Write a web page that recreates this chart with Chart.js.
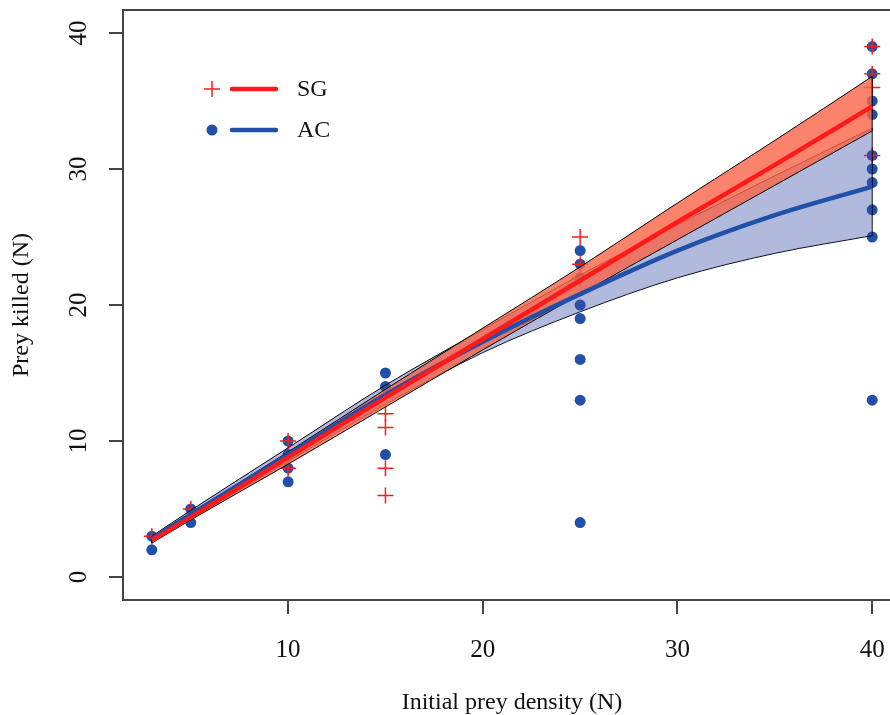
<!DOCTYPE html>
<html>
<head>
<meta charset="utf-8">
<script src="https://cdn.jsdelivr.net/npm/chart.js@4.4.1/dist/chart.umd.min.js"></script>
<style>
  html, body { margin: 0; padding: 0; background: #fff; overflow: hidden; }
  #wrap { width: 890px; height: 715px; overflow: hidden; }
</style>
</head>
<body>
<div id="wrap"><canvas id="chart" width="902" height="715"></canvas></div>
<script>
// observed prey killed per trial
const sgX = [3, 5, 10, 10, 15, 15, 15, 15, 25, 25, 25, 40, 40, 40, 40];
const sgY = [3, 5, 10, 8, 12, 11, 8, 6, 25, 23, 22, 39, 37, 36, 31];
const acX = [3, 3, 5, 5, 10, 10, 10, 10, 15, 15, 15, 25, 25, 25, 25, 25, 25, 25, 25, 40, 40, 40, 40, 40, 40, 40, 40, 40, 40, 40];
const acY = [3, 2, 5, 4, 10, 9, 8, 7, 15, 14, 9, 24, 23, 22, 20, 19, 16, 13, 4, 39, 37, 35, 34, 31, 30, 29, 27, 25, 13];

// fitted curves and confidence bands
const fitX  = [3, 5, 10, 15, 20, 25, 30, 35, 40];
const sgFit = [2.7, 4.4, 8.8, 13.2, 17.5, 21.8, 26.1, 30.3, 34.6];
const sgHi  = [2.9, 4.7, 9.2, 13.8, 18.3, 22.8, 27.5, 32.1, 36.8];
const sgLo  = [2.5, 4.2, 8.3, 12.5, 16.7, 20.8, 24.8, 28.8, 32.8];
const acFit = [2.8, 4.6, 9.0, 13.4, 17.3, 20.8, 24.0, 26.6, 28.7];
const acHi  = [3.0, 4.9, 9.5, 14.1, 18.2, 22.2, 25.9, 29.5, 33.0];
const acLo  = [2.6, 4.3, 8.5, 12.7, 16.5, 19.5, 22.0, 23.8, 25.1];

const xTicks = [10, 20, 30, 40];
const yTicks = [0, 10, 20, 30, 40];
const seriesNames = ['SG', 'AC'];

const RED = '#ff1a1a';
const BLUE = '#2150a8';
const FONT = "'Liberation Serif', 'Times New Roman', serif";

function pts(xs, ys) {
    return xs.map((x, i) => ({ x: x, y: ys[i] }));
}
function edge(lo, hi) {
    const n = fitX.length - 1;
    return [{ x: fitX[0], y: lo[0] }, { x: fitX[0], y: hi[0] }, { x: NaN, y: null },
            { x: fitX[n], y: lo[n] }, { x: fitX[n], y: hi[n] }];
}

const curve = {
    pointRadius: 0,
    cubicInterpolationMode: 'monotone',
    borderColor: '#000',
    borderWidth: 1
};

const datasets = [
    Object.assign({ label: 'AC lo', data: pts(fitX, acLo), fill: false, order: 15 }, curve),
    Object.assign({ label: 'AC hi', data: pts(fitX, acHi), fill: '-1', backgroundColor: 'rgba(60,80,170,0.4)', order: 14 }, curve),
    Object.assign({ label: 'SG lo', data: pts(fitX, sgLo), fill: false, order: 11 }, curve),
    Object.assign({ label: 'SG hi', data: pts(fitX, sgHi), fill: '-1', backgroundColor: 'rgba(250,100,70,0.8)', order: 12 }, curve),
    { label: 'AC edge', data: edge(acLo, acHi), borderColor: '#000', borderWidth: 1, pointRadius: 0, spanGaps: false, fill: false, order: 14 },
    { label: 'SG edge', data: edge(sgLo, sgHi), borderColor: '#000', borderWidth: 1, pointRadius: 0, spanGaps: false, fill: false, order: 11 },
    { label: 'AC', data: pts(acX, acY), showLine: false, pointStyle: 'circle', pointRadius: 5.5,
      backgroundColor: BLUE, borderWidth: 0, order: 21 },
    { label: 'SG', data: pts(sgX, sgY), showLine: false, pointStyle: 'cross', pointRadius: 8,
      borderColor: RED, borderWidth: 1.5, order: 20 },
    { label: 'AC fit', data: pts(fitX, acFit), borderColor: BLUE, borderWidth: 4.5, pointRadius: 0,
      cubicInterpolationMode: 'monotone', fill: false, order: 2 },
    { label: 'SG fit', data: pts(fitX, sgFit), borderColor: RED, borderWidth: 4.5, pointRadius: 0,
      cubicInterpolationMode: 'monotone', fill: false, order: 1 }
];

// top frame line, rotated y tick labels and the legend
const extras = {
    id: 'extras',
    afterDraw(chart) {
        const ctx = chart.ctx;
        const a = chart.chartArea;
        const y = chart.scales.y;
        ctx.save();
        ctx.strokeStyle = '#444';
        ctx.lineWidth = 2;
        ctx.beginPath();
        ctx.moveTo(a.left - 1, a.top);
        ctx.lineTo(a.right, a.top);
        ctx.stroke();

        ctx.fillStyle = '#111';
        ctx.font = '25px ' + FONT;
        ctx.textAlign = 'center';
        ctx.textBaseline = 'middle';
        yTicks.forEach(v => {
            ctx.save();
            ctx.translate(79, y.getPixelForValue(v));
            ctx.rotate(-Math.PI / 2);
            ctx.fillText(String(v), 0, 0);
            ctx.restore();
        });

        // legend
        ctx.font = '24px ' + FONT;
        const rows = [89, 130];
        seriesNames.forEach((name, i) => {
            const ly = rows[i];
            if (i === 0) {
                ctx.strokeStyle = RED;
                ctx.lineWidth = 1.5;
                ctx.beginPath();
                ctx.moveTo(204, ly); ctx.lineTo(220, ly);
                ctx.moveTo(212, ly - 8); ctx.lineTo(212, ly + 8);
                ctx.stroke();
            } else {
                ctx.fillStyle = BLUE;
                ctx.beginPath();
                ctx.arc(212, ly, 5.5, 0, Math.PI * 2);
                ctx.fill();
            }
            ctx.strokeStyle = i === 0 ? RED : BLUE;
            ctx.lineWidth = 4.5;
            ctx.lineCap = 'round';
            ctx.beginPath();
            ctx.moveTo(232, ly); ctx.lineTo(276, ly);
            ctx.stroke();
            ctx.fillStyle = '#111';
            ctx.textAlign = 'left';
            ctx.fillText(name, 297, ly + 1);
        });
        ctx.restore();
    }
};

new Chart(document.getElementById('chart'), {
    type: 'line',
    data: { datasets: datasets },
    options: {
        responsive: false,
        animation: false,
        layout: { autoPadding: false, padding: { top: 10, right: 1, left: 0, bottom: 0 } },
        plugins: { legend: { display: false }, tooltip: { enabled: false } },
        scales: {
            x: {
                type: 'linear',
                min: 1.52,
                max: 41.48,
                afterBuildTicks: s => { s.ticks = xTicks.map(v => ({ value: v })); },
                afterFit: s => { s.height = 115; s.paddingLeft = 0; s.paddingRight = 0; },
                grid: { drawOnChartArea: false, drawTicks: true, tickLength: 14, color: '#444', lineWidth: 2 },
                border: { display: true, color: '#444', width: 2 },
                ticks: { color: '#111', padding: 21, maxRotation: 0, font: { family: FONT, size: 25 } },
                title: { display: true, text: 'Initial prey density (N)', color: '#111',
                         font: { family: FONT, size: 24, lineHeight: 1 }, padding: { top: 0, bottom: 0 } }
            },
            y: {
                type: 'linear',
                min: -1.69,
                max: 41.69,
                afterBuildTicks: s => { s.ticks = yTicks.map(v => ({ value: v })); },
                afterFit: s => { s.width = 123; s.paddingTop = 0; s.paddingBottom = 0; },
                grid: { drawOnChartArea: false, drawTicks: true, tickLength: 14, color: '#444', lineWidth: 2 },
                border: { display: true, color: '#444', width: 2 },
                ticks: { display: false },
                title: { display: true, text: 'Prey killed (N)', color: '#111',
                         font: { family: FONT, size: 24, lineHeight: 1 }, padding: { top: 10, bottom: 0 } }
            }
        }
    },
    plugins: [extras]
});
</script>
</body>
</html>
